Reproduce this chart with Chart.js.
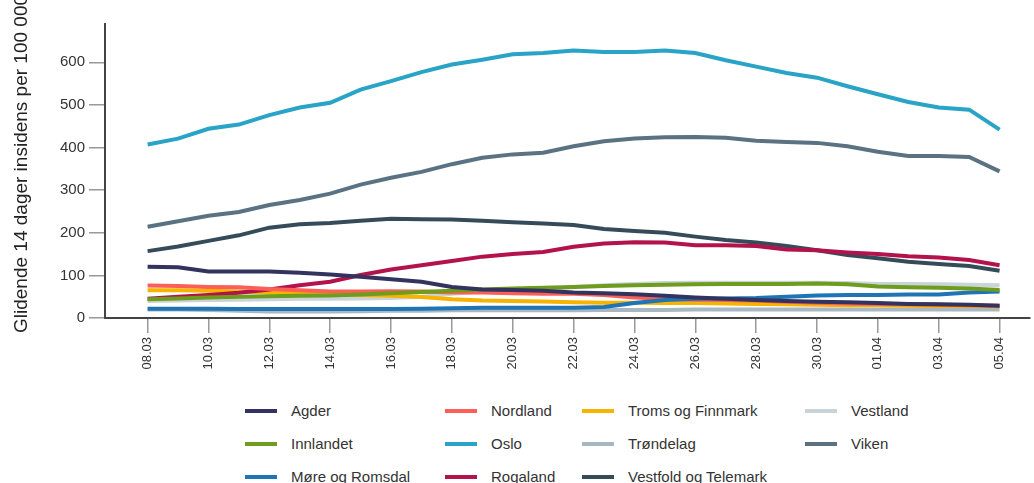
<!DOCTYPE html>
<html>
<head>
<meta charset="utf-8">
<script src="https://cdn.jsdelivr.net/npm/chart.js@4/dist/chart.umd.min.js"></script>
<style>
  html, body { margin: 0; padding: 0; background: #fff; }
  body { width: 1034px; height: 483px; position: relative; overflow: hidden; font-family: "Liberation Sans", Arial, sans-serif; }
  #wrap { position: absolute; left: 0; top: 0; width: 1034px; height: 378px; }
  #legend {
    position: absolute; left: 245px; top: 394px;
    display: grid; grid-auto-flow: column;
    grid-template-rows: repeat(3, 33px);
    grid-template-columns: 200px 137px 223px 200px;
    font-size: 15px; color: #333;
  }
  .item { display: flex; align-items: center; white-space: nowrap; }
  .swatch { width: 32px; height: 4px; margin-right: 14px; }
</style>
</head>
<body>
<div id="wrap"><canvas id="chart"></canvas></div>
<div id="legend"></div>
<script>
const dates = ['08.03','09.03','10.03','11.03','12.03','13.03','14.03','15.03','16.03','17.03',
  '18.03','19.03','20.03','21.03','22.03','23.03','24.03','25.03','26.03','27.03',
  '28.03','29.03','30.03','31.03','01.04','02.04','03.04','04.04','05.04'];
const yTicks = [0, 100, 200, 300, 400, 500, 600];
const yTitle = 'Glidende 14 dager insidens per 100 000';

const agder     = [120,119,109,109,109,106,102,97,91,85,73,67,66,64,60,58,56,52,48,45,42,40,38,37,35,33,32,31,29];
const innlandet = [44,46,48,50,51,52,53,55,58,61,64,67,69,71,73,75,77,78,79,80,80,80,81,79,74,72,71,69,66];
const more      = [22,22,22,21,21,21,21,21,21,22,23,24,24,24,24,26,35,42,45,46,47,50,53,54,54,55,55,60,62];
const nordland  = [76,75,73,72,68,65,62,62,63,62,60,60,58,57,57,54,48,45,43,42,41,38,36,34,33,32,31,30,29];
const oslo      = [407,421,444,454,476,494,505,536,556,577,595,606,619,622,628,624,624,628,622,605,590,575,564,544,525,507,494,489,442];
const rogaland  = [45,50,54,59,67,77,85,101,114,124,134,144,150,155,167,175,178,177,171,171,169,161,159,154,150,145,142,136,124];
const troms     = [65,65,64,62,60,58,56,54,52,49,44,41,40,39,37,36,36,35,35,34,33,32,31,30,30,29,28,28,27];
const trondelag = [20,20,19,17,15,15,15,16,17,17,18,18,18,18,18,19,19,19,20,20,20,20,20,20,20,20,20,20,20];
const vestfold  = [157,168,181,194,212,220,223,228,233,232,231,228,225,222,218,209,204,200,191,183,177,169,159,148,140,132,127,122,111];
const vestland  = [40,41,42,43,44,45,45,46,47,50,57,62,65,67,73,77,80,82,83,83,83,83,83,82,80,80,79,78,77];
const viken     = [214,227,240,249,265,277,292,313,329,343,361,376,384,388,403,415,421,424,425,423,416,413,411,403,390,380,380,378,344];

const series = [
  ['Agder', agder, '#33335f'],
  ['Innlandet', innlandet, '#6e9c1e'],
  ['Møre og Romsdal', more, '#1f74b6'],
  ['Nordland', nordland, '#fb5f57'],
  ['Oslo', oslo, '#29a3c6'],
  ['Rogaland', rogaland, '#b3134a'],
  ['Troms og Finnmark', troms, '#f6b400'],
  ['Trøndelag', trondelag, '#a8b8c2'],
  ['Vestfold og Telemark', vestfold, '#364b5a'],
  ['Vestland', vestland, '#c9d4d9'],
  ['Viken', viken, '#5a7281']
];

// y-axis title drawn by hand so it can start below the axis and run off the top
const yTitlePlugin = {
  id: 'yTitle',
  afterDraw(chart) {
    const ctx = chart.ctx;
    ctx.save();
    ctx.translate(22, 333);
    ctx.rotate(-Math.PI / 2);
    ctx.font = '19px "Liberation Sans", Arial, sans-serif';
    ctx.fillStyle = '#222';
    ctx.textAlign = 'left';
    ctx.textBaseline = 'middle';
    ctx.fillText(yTitle, 0, 0);
    ctx.restore();
  }
};

const chart = new Chart(document.getElementById('chart'), {
  type: 'line',
  data: {
    datasets: series.map(([label, values, color]) => ({
      label: label,
      data: values.map((v, i) => ({ x: i, y: v })),
      borderColor: color,
      backgroundColor: color,
      borderWidth: 4,
      pointRadius: 0,
      tension: 0
    }))
  },
  options: {
    responsive: true,
    maintainAspectRatio: false,
    animation: false,
    layout: { padding: { top: 24, right: 4, left: 0, bottom: 0 } },
    plugins: { legend: { display: false }, tooltip: { enabled: false } },
    scales: {
      x: {
        type: 'linear',
        min: -1.4,
        max: 29,
        afterBuildTicks: (scale) => {
          scale.ticks = dates.map((d, i) => ({ value: i })).filter(t => t.value % 2 === 0);
        },
        afterFit: (scale) => { scale.height = 60; },
        border: { display: true, color: '#444', width: 2 },
        grid: { drawOnChartArea: false, drawTicks: true, tickLength: 15, color: '#999', lineWidth: 1.5 },
        ticks: {
          autoSkip: false,
          minRotation: 90,
          maxRotation: 90,
          padding: 4,
          color: '#333',
          font: { family: '"Liberation Sans", Arial, sans-serif', size: 13 },
          callback: (v) => dates[v]
        }
      },
      y: {
        min: 0,
        max: 690,
        afterBuildTicks: (scale) => {
          scale.ticks = yTicks.map(v => ({ value: v }));
        },
        afterFit: (scale) => { scale.width = 105; },
        border: { display: true, color: '#444', width: 2 },
        grid: { drawOnChartArea: false, drawTicks: true, tickLength: 16, color: '#999', lineWidth: 1.5 },
        ticks: {
          padding: 4,
          color: '#333',
          font: { family: '"Liberation Sans", Arial, sans-serif', size: 15 }
        }
      }
    }
  },
  plugins: [yTitlePlugin]
});

// HTML legend laid out as a column-first grid
const legend = document.getElementById('legend');
legend.innerHTML = chart.data.datasets.map(ds => `
  <div class="item"><span class="swatch" style="background:${ds.borderColor}"></span>${ds.label}</div>
`).join('');
</script>
</body>
</html>
